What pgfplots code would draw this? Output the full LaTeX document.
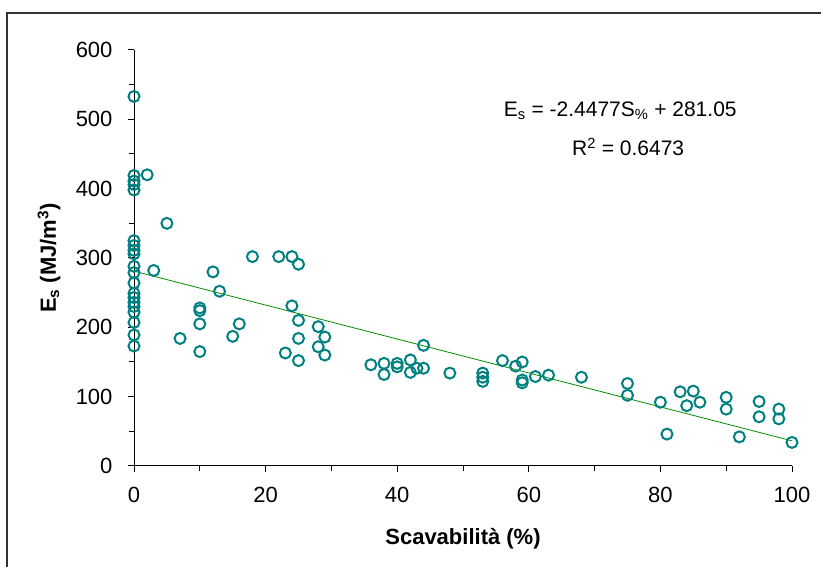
\documentclass[border=0pt]{standalone}
\usepackage{pgfplots}
\pgfplotsset{compat=1.18}
\usepackage{fontspec}
\setmainfont{Liberation Sans}
\definecolor{teal1}{RGB}{0,128,128}
\definecolor{green1}{RGB}{0,140,0}
\begin{document}
\begin{tikzpicture}[x=1pt,y=1pt]
\useasboundingbox (0,0) rectangle (821,567);
\draw[line width=1.3pt, black!80] (7,0) -- (7,554) -- (821,554);
\begin{axis}[
  at={(134pt,101pt)}, anchor=south west,
  scale only axis, width=658pt, height=416pt,
  xmin=0, xmax=100, ymin=0, ymax=600,
  axis x line*=bottom, axis y line*=left,
  axis line style={-, line width=1pt, black},
  xtick={0,20,...,100}, ytick={0,100,...,600},
  minor x tick num=1, minor y tick num=1,
  tick align=outside,
  major tick length=6pt, minor tick length=5pt,
  tick style={line width=1pt, black},
  ticklabel style={font=\fontsize{22}{24}\selectfont},
  /pgf/number format/assume math mode=true,
  yticklabel style={xshift=-12pt},
  xticklabel style={yshift=-12pt},
  xlabel={\textbf{Scavabilità (\%)}},
  ylabel={\textbf{E\textsubscript{s} (MJ/m\textsuperscript{3})}},
  label style={font=\fontsize{22}{24}\selectfont},
  xlabel style={at={(axis description cs:0.5,-0.1755)}, anchor=center},
  ylabel style={at={(axis description cs:-0.129,0.5)}, anchor=center},
  clip=false,
]
\addplot[green1, line width=0.8pt, no markers] coordinates {(0,281.05) (100,36.28)};
\addplot[only marks, mark=o, mark size=5.5pt, mark options={line width=2pt, draw=teal1}] coordinates {
(0,533) (0,419) (0,411) (0,406) (0,398) (0,325) (0,318) (0,311) (0,306) (0,288)
(0,279) (0,264) (0,249) (0,243) (0,236) (0,230) (0,222) (0,207) (0,189) (0,173)
(2,420) (3,282) (5,350) (7,184)
(10,228) (10,224) (10,205) (10,165)
(12,280) (13,252) (15,187) (16,205) (18,302) (22,302) (23,163)
(24,302) (24,231)
(25,291) (25,210) (25,184) (25,152)
(28,201) (28,172) (29,186) (29,160)
(36,146) (38,148) (38,132) (40,148) (40,143) (42,153) (42,135) (43,141)
(44,174) (44,141) (48,134)
(53,134) (53,128) (53,122) (56,152) (58,144) (59,150) (59,124) (59,120)
(61,129) (63,131) (68,128) (75,119) (75,102)
(80,92) (81,46) (83,107) (84,87) (85,108) (86,92)
(90,99) (90,82) (92,42) (95,93) (95,71) (98,82) (98,68) (100,34)
};
\node[font=\fontsize{21}{23}\selectfont] at (axis cs:73.9,512) {E\textsubscript{s} = -2.4477S\textsubscript{\%} + 281.05};
\node[font=\fontsize{21}{23}\selectfont] at (axis cs:75.1,460) {R\textsuperscript{2} = 0.6473};
\end{axis}
\end{tikzpicture}
\end{document}
